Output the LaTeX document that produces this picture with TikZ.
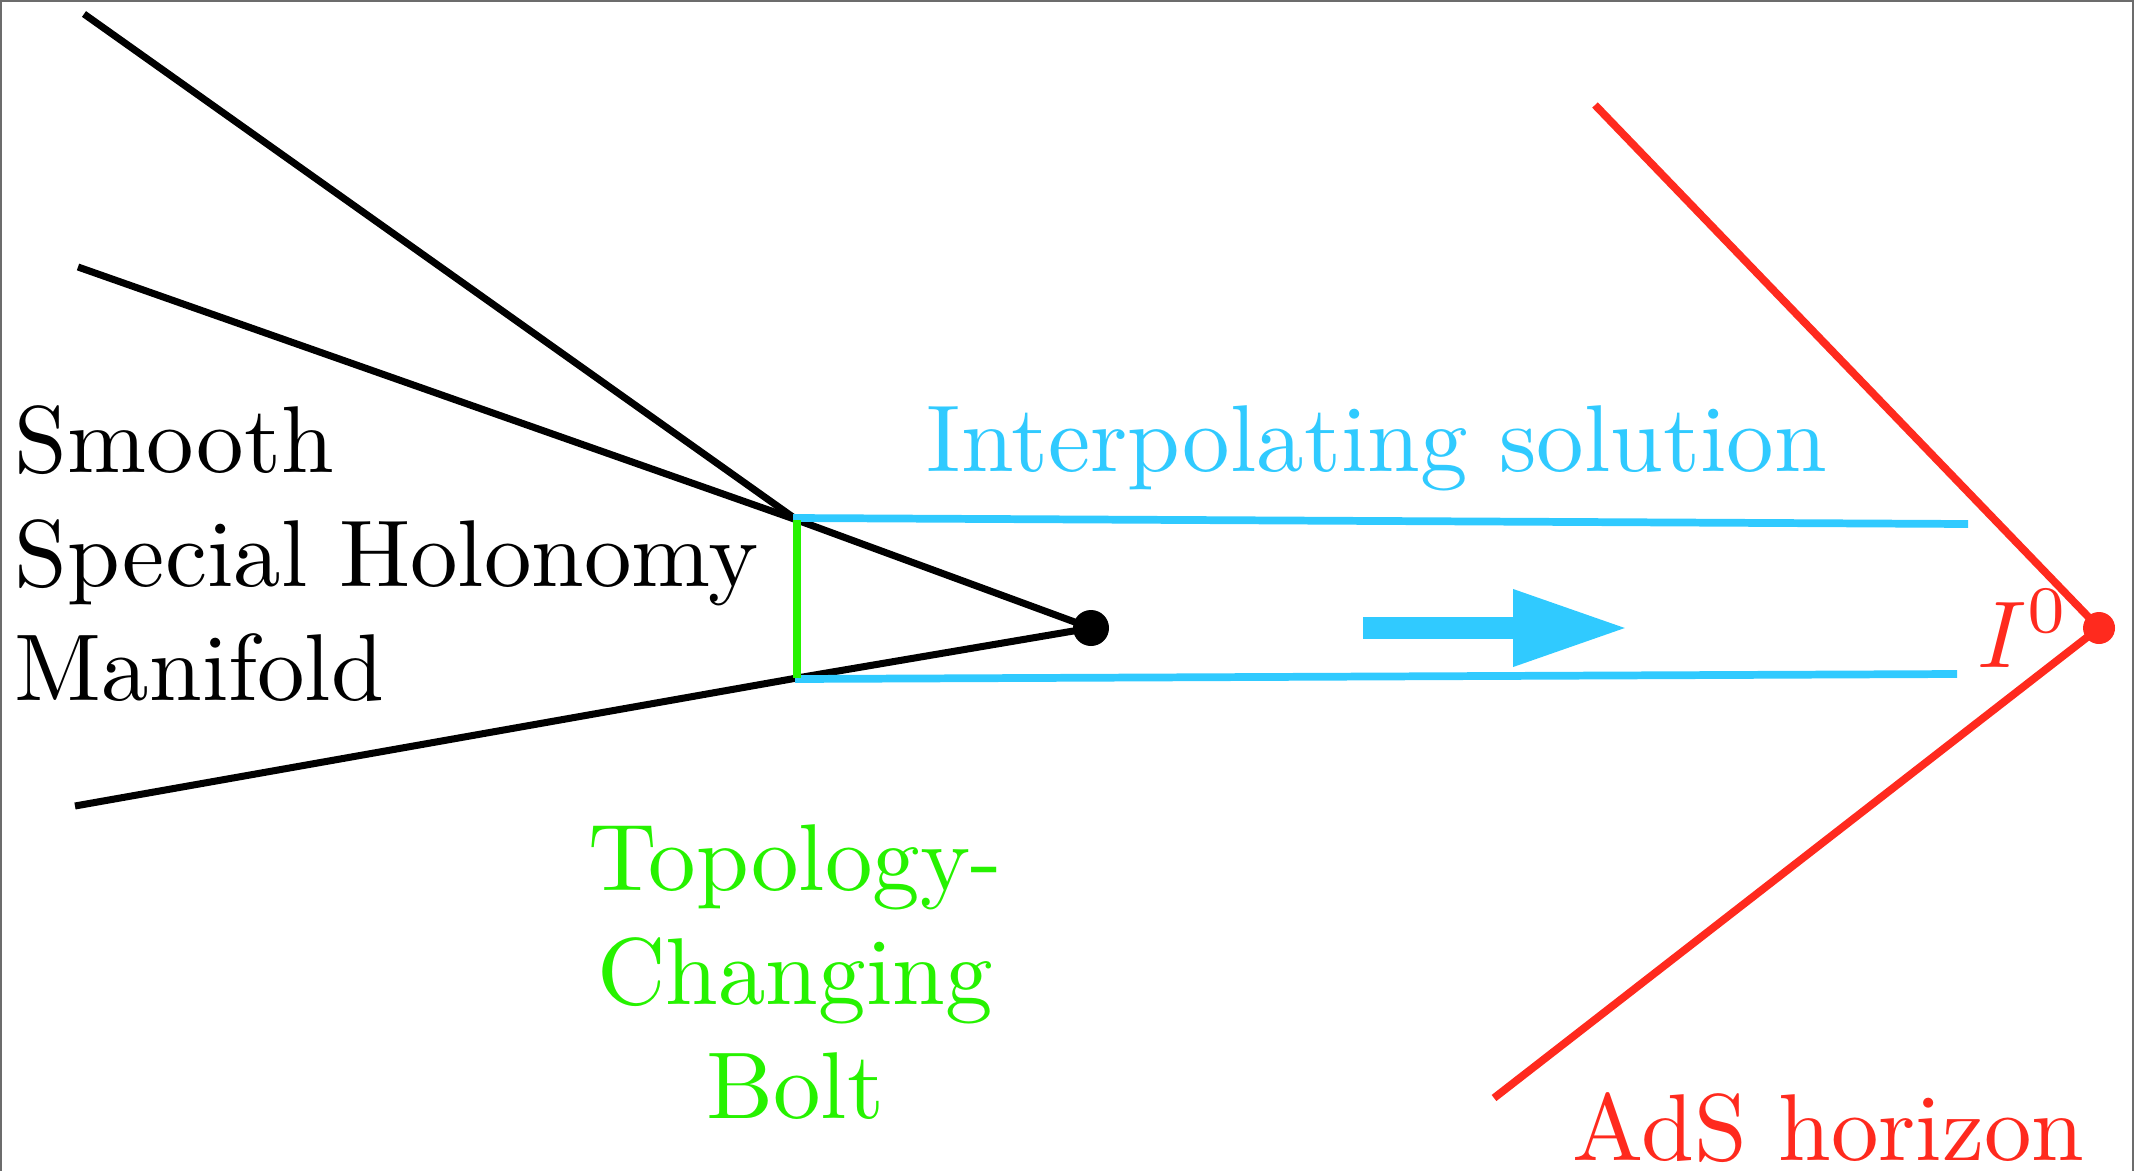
\documentclass[tikz,border=0pt]{standalone}
\usetikzlibrary{arrows.meta}

\definecolor{solblue}{RGB}{48,202,255}
\definecolor{boltgreen}{RGB}{38,242,0}
\definecolor{adsred}{RGB}{255,42,30}

\tikzset{
	lbl/.style={scale=2.7, inner sep=0pt},
	cone/.style={line width=2pt, black},
	flow/.style={line width=2.2pt, solblue},
}

\begin{document}
\begin{tikzpicture}[>=stealth, line join=round]
				% Khung hình
				\useasboundingbox (0,0) rectangle (21.34,11.71);
				\draw[gray!85!black, line width=1.2pt] (0,0) -- (0,11.71) -- (21.34,11.71) -- (21.34,0);
				
				% Các điểm chính
				\coordinate (A) at (0.84,11.57);
				\coordinate (B) at (0.78,9.04);
				\coordinate (C) at (0.75,3.65);
				\coordinate (P) at (7.97,6.51);
				\coordinate (Q) at (7.97,4.93);
				\coordinate (O) at (10.91,5.43);
				
				% Đầu mút các đường xanh
				\coordinate (U1) at (7.93,6.53);
				\coordinate (U2) at (19.68,6.47);
				\coordinate (V1) at (7.95,4.92);
				\coordinate (V2) at (19.57,4.97);
				
				% Mũi tên
				\coordinate (S1) at (13.63,5.43);
				\coordinate (S2) at (16.29,5.43);
				
				% Chân trời AdS
				\coordinate (E) at (20.99,5.43);
				\coordinate (F) at (15.95,10.66);
				\coordinate (G) at (14.94,0.73);
				
				% Các đường khối đa tạp
				\draw[cone] (A) -- (P);
				\draw[cone] (B) -- (P) -- (O);
				\draw[cone] (C) -- (Q) -- (O);
				
				% Nghiệm nội suy
				\draw[flow] (U1) -- (U2);
				\draw[flow] (V1) -- (V2);
				\draw[solblue, line width=2.2mm, -{Triangle[length=11.6mm, width=7.1mm]}] (S1) -- (S2);
				
				% Bolt
				\draw[boltgreen, line width=2.2pt] (P) -- (Q);
				
				% Chân trời
				\draw[adsred, line width=2.2pt] (F) -- (E) -- (G);
				
				\fill (O) circle (0.18);
				\fill[adsred] (E) circle (0.16);
				
				% Nhãn
				\node[lbl, align=left, anchor=north west] (smooth) at (0.13,7.67) {Smooth\\Special Holonomy\\Manifold};
				\node[lbl, anchor=base west, solblue] (interp) at (9.25,7.00) {Interpolating solution};
				\node[lbl, align=center, anchor=north, boltgreen] (bolt) at (7.95,3.48) {Topology-\\Changing\\Bolt};
				\node[lbl, anchor=base west, adsred] (ads) at (15.71,0.11) {AdS horizon};
				\node[lbl, anchor=base west, adsred] (inf) at (19.76,5.04) {$I^0$};
\end{tikzpicture}
\end{document}
